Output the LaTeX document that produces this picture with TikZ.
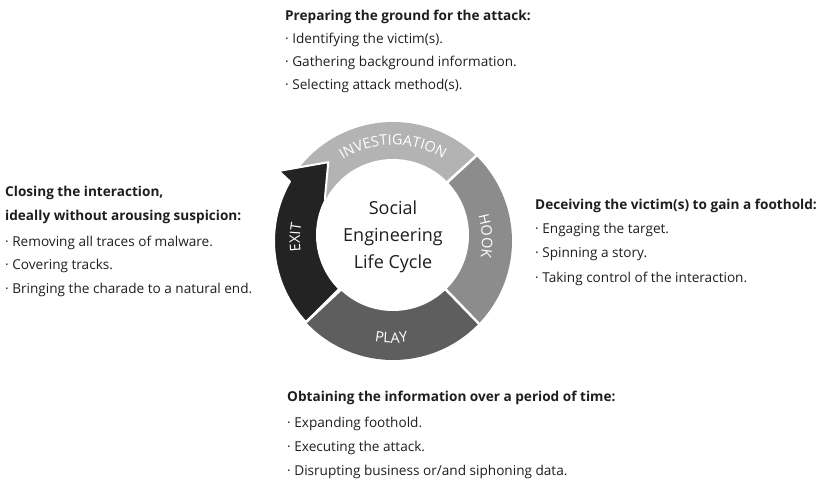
\documentclass[tikz,border=0pt]{standalone}
\usepackage{fontspec}
\setmainfont{Open Sans}
\usetikzlibrary{calc,decorations.text}
\definecolor{invc}{HTML}{B3B3B3}
\definecolor{hookc}{HTML}{8C8C8C}
\definecolor{playc}{HTML}{5E5E5E}
\definecolor{exitc}{HTML}{232323}
\definecolor{txt}{HTML}{1E1E1E}
\newcommand\ringfont{\fontsize{14.5pt}{14.5pt}\selectfont}
\tikzset{
  head/.style={font=\fontsize{13.6pt}{13.6pt}\selectfont\bfseries, text=txt, inner sep=0pt, anchor=base west},
  itm/.style={font=\fontsize{13.6pt}{13.6pt}\selectfont, text=txt, inner sep=0pt, anchor=base west},
  gapline/.style={white, line width=2.5pt},
  ringlabel/.style={decorate, decoration={text along path, text={|\ringfont|#1}, text align=center, text color=white}}
}
\begin{document}
\begin{tikzpicture}[x=1pt,y=1pt]
\useasboundingbox (0,0) rectangle (821,484);
\coordinate (O) at (393,243);
\coordinate (I) at (393,249);
% ring segments
\fill[invc] (O) -- ($(O)+(46:119pt)$) arc[start angle=46,end angle=151,radius=119pt] -- cycle;
\fill[hookc] (O) -- ($(O)+(-43:119pt)$) arc[start angle=-43,end angle=46,radius=119pt] -- cycle;
\fill[playc] (O) -- ($(O)+(223:119pt)$) arc[start angle=223,end angle=317,radius=119pt] -- cycle;
\fill[white] (I) circle (76pt);
% exit arrow
\path[fill=exitc, draw=white, line width=2pt, line join=round]
  ($(O)+(223:119pt)$) arc[start angle=223,end angle=150,radius=119pt]
  -- ($(O)+(148.5:134pt)$) -- ($(O)+(129.4:102pt)$) -- ($(O)+(147:81pt)$)
  -- ($(I)+(153:76pt)$) arc[start angle=153,end angle=225,radius=76pt] -- cycle;
% gaps
\draw[gapline] ($(O)+(48:70pt)$) -- ($(O)+(45.5:125pt)$);
\draw[gapline] ($(O)+(-42.5:70pt)$) -- ($(O)+(-44:125pt)$);
\draw[gapline] ($(O)+(223:70pt)$) -- ($(O)+(223:125pt)$);
% ring labels
\path[ringlabel=INVESTIGATION] ($(O)+(140:96pt)$) arc[start angle=140,end angle=40,radius=96pt];
\path[ringlabel=HOOK] ($(O)+(33:89pt)$) arc[start angle=33,end angle=-27,radius=89pt];
\path[ringlabel=PLAY] ($(O)+(239:102pt)$) arc[start angle=239,end angle=299,radius=102pt];
\path[ringlabel=EXIT] ($(O)+(208:93pt)$) arc[start angle=208,end angle=148,radius=93pt];
% center
\node[align=center, font=\fontsize{18pt}{27pt}\selectfont, text=txt, inner sep=0pt] (title) at (393,247) {Social\\Engineering\\Life Cycle};
% top block
\node[head] (t0) at (285,463) {Preparing the ground for the attack:};
\node[itm] (t1) at (285,440) {· Identifying the victim(s).};
\node[itm] (t2) at (285,417) {· Gathering background information.};
\node[itm] (t3) at (285,394) {· Selecting attack method(s).};
% left block
\node[head] (l0) at (5,287) {Closing the interaction,};
\node[head] (l1) at (5,263) {ideally without arousing suspicion:};
\node[itm] (l2) at (5,237) {· Removing all traces of malware.};
\node[itm] (l3) at (5,214) {· Covering tracks.};
\node[itm] (l4) at (5,190) {· Bringing the charade to a natural end.};
% right block
\node[head] (r0) at (535,274) {Deceiving the victim(s) to gain a foothold:};
\node[itm] (r1) at (535,250) {· Engaging the target.};
\node[itm] (r2) at (535,226) {· Spinning a story.};
\node[itm] (r3) at (535,201) {· Taking control of the interaction.};
% bottom block
\node[head] (b0) at (287,82) {Obtaining the information over a period of time:};
\node[itm] (b1) at (287,56) {· Expanding foothold.};
\node[itm] (b2) at (287,32) {· Executing the attack.};
\node[itm] (b3) at (287,8) {· Disrupting business or/and siphoning data.};
\end{tikzpicture}
\end{document}
